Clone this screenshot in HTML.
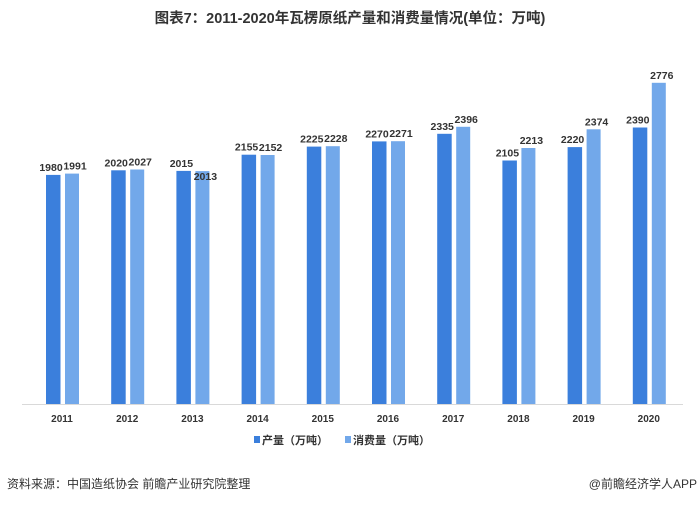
<!DOCTYPE html>
<html><head><meta charset="utf-8"><style>
body{margin:0;background:#fff;width:700px;height:505px;overflow:hidden;}
</style></head><body>
<svg width="700" height="505" xmlns="http://www.w3.org/2000/svg" font-family="Liberation Sans, Noto Sans CJK SC, sans-serif">
<text x="350" y="23" text-anchor="middle" font-size="14.5" font-weight="bold" fill="#333">图表7：2011-2020年瓦楞原纸产量和消费量情况(单位：万吨)</text>
<line x1="22" y1="404.5" x2="683" y2="404.5" stroke="#d9d9d9" stroke-width="1"/>
<g fill="#3b7fdc">
<rect x="46" y="174.9" width="14.5" height="229.1"/>
<rect x="111.2" y="170.3" width="14.5" height="233.7"/>
<rect x="176.4" y="170.9" width="14.5" height="233.1"/>
<rect x="241.6" y="154.7" width="14.5" height="249.3"/>
<rect x="306.8" y="146.6" width="14.5" height="257.4"/>
<rect x="372" y="141.4" width="14.5" height="262.6"/>
<rect x="437.2" y="133.8" width="14.5" height="270.2"/>
<rect x="502.4" y="160.5" width="14.5" height="243.5"/>
<rect x="567.6" y="147.1" width="14.5" height="256.9"/>
<rect x="632.8" y="127.5" width="14.5" height="276.5"/>
</g>
<g fill="#72a8ea">
<rect x="65" y="173.6" width="14" height="230.4"/>
<rect x="130.2" y="169.5" width="14" height="234.5"/>
<rect x="195.4" y="171.1" width="14" height="232.9"/>
<rect x="260.6" y="155" width="14" height="249"/>
<rect x="325.8" y="146.2" width="14" height="257.8"/>
<rect x="391" y="141.2" width="14" height="262.8"/>
<rect x="456.2" y="126.8" width="14" height="277.2"/>
<rect x="521.4" y="148" width="14" height="256"/>
<rect x="586.6" y="129.3" width="14" height="274.7"/>
<rect x="651.8" y="82.8" width="14" height="321.2"/>
</g>
<g font-size="10.5" font-weight="bold" fill="#333" text-anchor="middle">
<text x="51" y="171">1980</text><text x="75" y="169.6">1991</text>
<text x="116.2" y="166.3">2020</text><text x="140.2" y="165.5">2027</text>
<text x="181.4" y="166.9">2015</text><text x="205.4" y="180">2013</text>
<text x="246.6" y="150.7">2155</text><text x="270.6" y="151">2152</text>
<text x="311.8" y="142.6">2225</text><text x="335.8" y="142.2">2228</text>
<text x="377" y="137.4">2270</text><text x="401" y="137.2">2271</text>
<text x="442.2" y="129.8">2335</text><text x="466.2" y="122.8">2396</text>
<text x="507.4" y="156.5">2105</text><text x="531.4" y="144">2213</text>
<text x="572.6" y="143.1">2220</text><text x="596.6" y="125.3">2374</text>
<text x="637.8" y="123.5">2390</text><text x="661.8" y="78.8">2776</text>
</g>
<g font-size="10" font-weight="bold" fill="#333" text-anchor="middle">
<text x="62" y="422">2011</text><text x="127.2" y="422">2012</text><text x="192.4" y="422">2013</text>
<text x="257.6" y="422">2014</text><text x="322.8" y="422">2015</text><text x="388" y="422">2016</text>
<text x="453.2" y="422">2017</text><text x="518.4" y="422">2018</text><text x="583.6" y="422">2019</text>
<text x="648.8" y="422">2020</text>
</g>
<rect x="254" y="436" width="6" height="7" fill="#3b7fdc"/>
<text x="262" y="444" font-size="11" font-weight="bold" fill="#333">产量（万吨）</text>
<rect x="345" y="436" width="6" height="7" fill="#72a8ea"/>
<text x="353" y="444" font-size="11" font-weight="bold" fill="#333">消费量（万吨）</text>
<text x="7" y="488" font-size="12" fill="#333">资料来源：中国造纸协会 前瞻产业研究院整理</text>
<text x="697" y="488" font-size="12" fill="#333" text-anchor="end">@前瞻经济学人APP</text>
</svg>
</body></html>
